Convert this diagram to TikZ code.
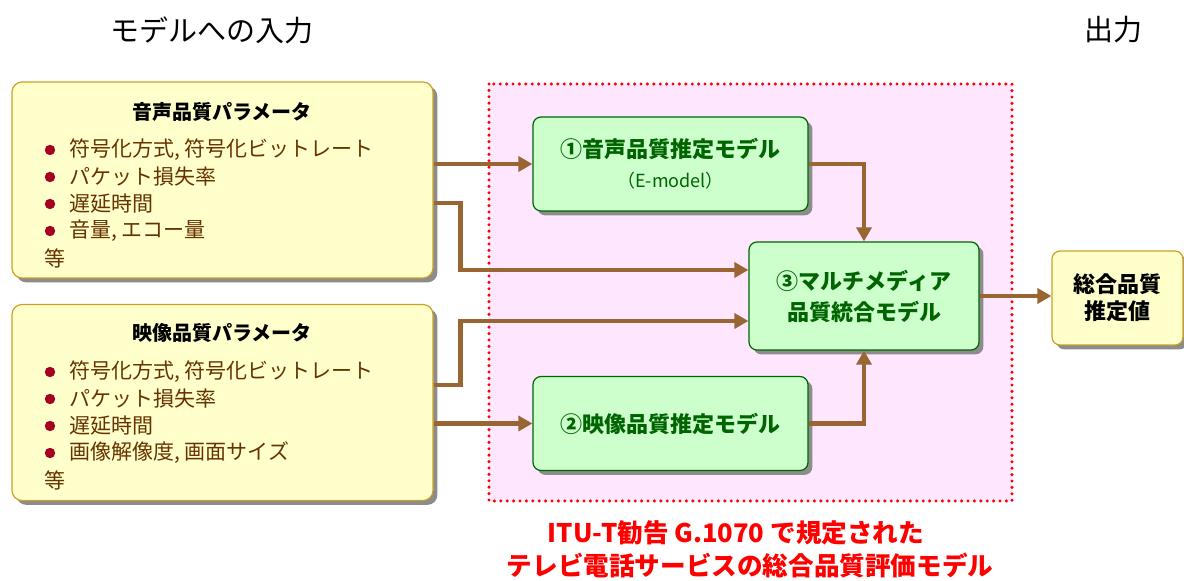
\documentclass[tikz,border=0pt]{standalone}
\usepackage{fontspec}
\setmainfont{Noto Sans CJK JP}
\usetikzlibrary{arrows.meta, shadows}
\definecolor{parfill}{RGB}{255,255,204}
\definecolor{pardraw}{RGB}{204,160,40}
\definecolor{modfill}{RGB}{204,255,204}
\definecolor{moddraw}{RGB}{0,100,0}
\definecolor{regfill}{RGB}{255,230,255}
\definecolor{flwcol}{RGB}{153,102,51}
\definecolor{itmcol}{RGB}{102,51,0}
\definecolor{bulcol}{RGB}{165,0,33}
\tikzset{%
    shd/.style={drop shadow={shadow xshift=2.2pt, shadow yshift=-2.2pt, fill=black!45, opacity=1}},
    par/.style={draw=pardraw, fill=parfill, line width=0.6pt, rounded corners=5pt, inner sep=0pt, minimum width=210.5pt, minimum height=98pt, shd},
    mod/.style={draw=moddraw, fill=modfill, line width=0.6pt, rounded corners=4pt, inner sep=0pt, align=center, text=moddraw, shd},
    resbox/.style={draw=pardraw, fill=parfill, line width=0.6pt, rounded corners=4pt, inner sep=0pt, align=center, minimum width=65.5pt, minimum height=47pt, font=\bfseries\fontsize{11}{13.5}\selectfont, shd},
    reg/.style={draw=red, fill=regfill, line width=1.7pt, line cap=round, dash pattern=on 0pt off 3.2pt},
    flw/.style={draw=flwcol, line width=2.2pt, -{Triangle[length=7pt, width=7.5pt]}},
    ttl/.style={inner sep=0pt, font=\bfseries\fontsize{10}{12}\selectfont},
    itm/.style={anchor=west, inner sep=0pt, text=itmcol, font=\fontsize{10.5}{12}\selectfont},
    bul/.style={fill=bulcol},
    hdr/.style={inner sep=0pt, font=\fontsize{14.5}{16}\selectfont},
    notetxt/.style={inner sep=0pt, text=red, font=\bfseries\fontsize{12.8}{15}\selectfont},
}
\begin{document}
\begin{tikzpicture}[x=0.5pt, y=-0.5pt]
    \useasboundingbox (0,0) rectangle (1184,581);
    % headings
    \node [hdr] (hin) at (212,30) {モデルへの入力};
    \node [hdr] (hout) at (1113,30) {出力};
    % G.1070 region
    \draw [reg] (489,84) rectangle (1012,501);
    % input parameters
    \node [par] (apar) at (222.5,180) {};
    \node [ttl] (atit) at (222,112) {音声品質パラメータ};
    \foreach \t [count=\i, evaluate=\i as \yy using 150+27*(\i-1)] in {{符号化方式, 符号化ビットレート}, パケット損失率, 遅延時間, {音量, エコー量}} {
        \fill [bul] (50,\yy) circle (2.6pt);
        \node [itm] (a\i) at (69,\yy) {\t};
    }
    \node [itm] (aetc) at (44,258) {等};
    \node [par] (vpar) at (222.5,402.5) {};
    \node [ttl] (vtit) at (222,333) {映像品質パラメータ};
    \foreach \t [count=\i, evaluate=\i as \yy using 372+27*(\i-1)] in {{符号化方式, 符号化ビットレート}, パケット損失率, 遅延時間, {画像解像度, 画面サイズ}} {
        \fill [bul] (50,\yy) circle (2.6pt);
        \node [itm] (v\i) at (69,\yy) {\t};
    }
    \node [itm] (vetc) at (44,480) {等};
    % models
    \node [mod, minimum width=137.5pt, minimum height=47pt] (amod) at (670.5,164) {{\bfseries\fontsize{11}{13}\selectfont ①音声品質推定モデル}\\[3pt]{\fontsize{9}{11}\selectfont （E-model）}};
    \node [mod, minimum width=137.5pt, minimum height=47pt, font=\bfseries\fontsize{11}{13}\selectfont] (vmod) at (670.5,423.5) {②映像品質推定モデル};
    \node [mod, minimum width=115pt, minimum height=54pt, font=\bfseries\fontsize{11}{15.5}\selectfont] (mm) at (864,296) {③マルチメディア\\品質統合モデル};
    \node [resbox] (res) at (1117.5,298) {総合品質\\推定値};
    % connectors
    \draw [flw] (apar.east |- amod.west) -- (amod.west);
    \draw [flw] (apar.east |- 0,203) -- ++(27,0) |- (mm.west |- 0,270);
    \draw [flw] (vpar.east |- 0,385) -- ++(27,0) |- (mm.west |- 0,321);
    \draw [flw] (vpar.east |- vmod.west) -- (vmod.west);
    \draw [flw] (amod.east) -| (mm.north);
    \draw [flw] (vmod.east) -| (mm.south);
    \draw [flw] (mm.east) -- (res.west |- mm.east);
    % caption
    \node [notetxt] (note1) at (736,533) {ITU-T勧告 G.1070 で規定された};
    \node [notetxt] (note2) at (750,566) {テレビ電話サービスの総合品質評価モデル};
\end{tikzpicture}
\end{document}
